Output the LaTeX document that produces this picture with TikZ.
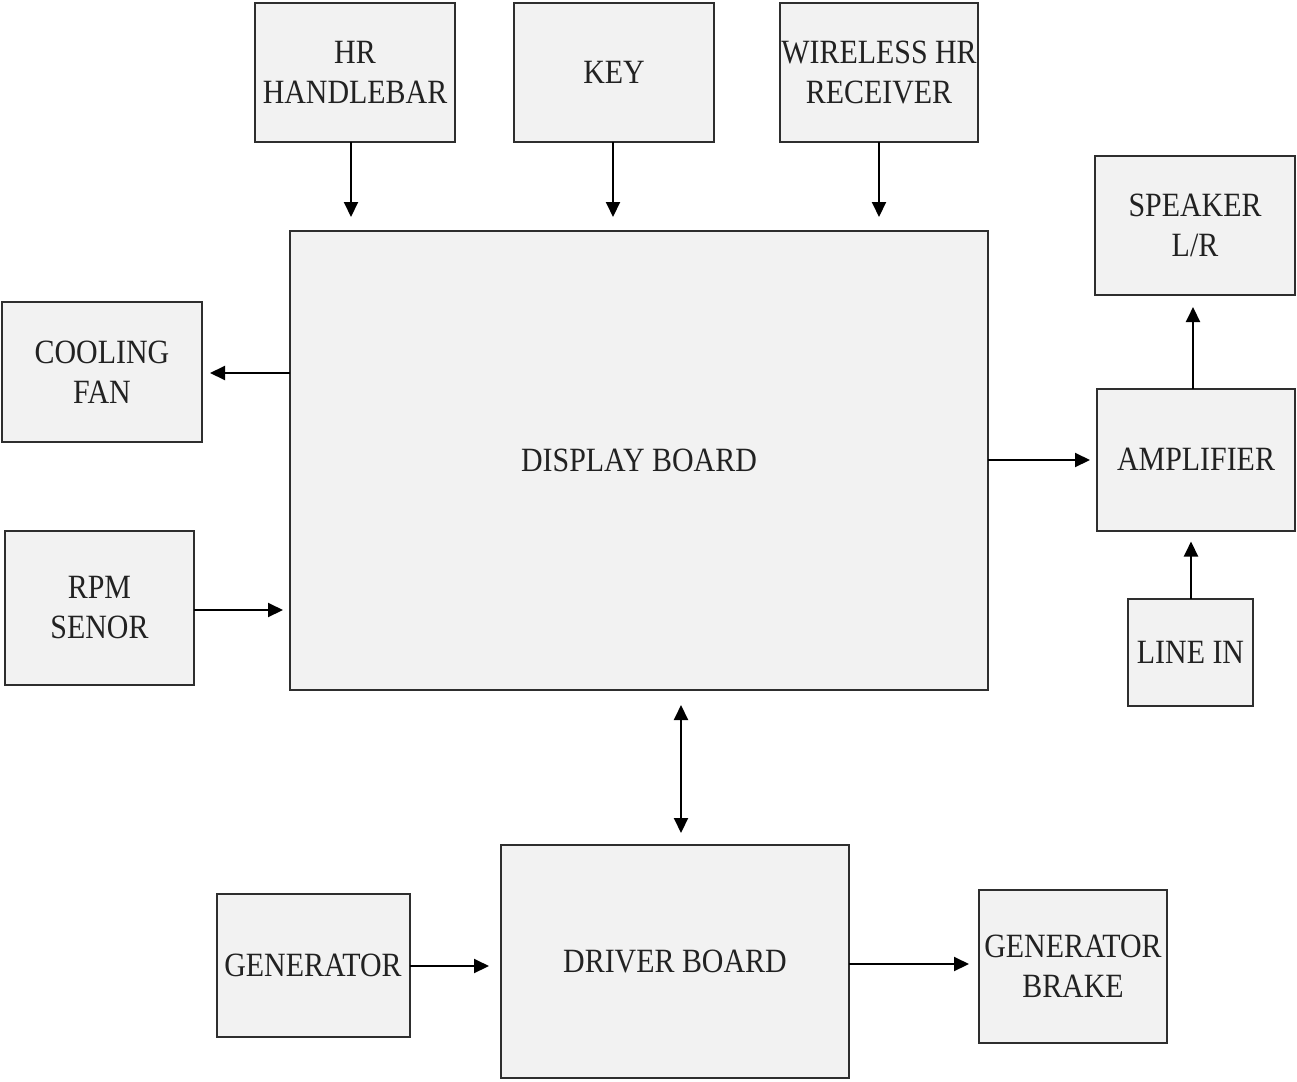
\documentclass[tikz,border=0pt]{standalone}
\usepackage{fontspec}
\setmainfont{Liberation Serif}[FakeStretch=0.88]
\usetikzlibrary{arrows.meta}
\definecolor{boxfill}{HTML}{F2F2F2}
\definecolor{boxline}{HTML}{2E2E2E}
\definecolor{txt}{HTML}{222222}
\tikzset{
  blk/.style={draw=boxline, fill=boxfill, line width=2pt, inner sep=0pt, outer sep=0pt,
    align=center, text=txt, font=\fontsize{34}{40}\selectfont},
  arr/.style={draw=black, line width=2pt, -{Triangle[length=15pt,width=14pt]}},
  darr/.style={draw=black, line width=2pt, {Triangle[length=15pt,width=14pt]}-{Triangle[length=15pt,width=14pt]}}
}
\begin{document}
\begin{tikzpicture}[x=1pt,y=-1pt]
\useasboundingbox (0,0) rectangle (1297,1081);
\node[blk, minimum width=200pt, minimum height=139pt] (hr) at (355,72.5) {HR\\HANDLEBAR};
\node[blk, minimum width=200pt, minimum height=139pt] (key) at (614,72.5) {KEY};
\node[blk, minimum width=198pt, minimum height=139pt] (wls) at (879,72.5) {WIRELESS HR\\RECEIVER};
\node[blk, minimum width=698pt, minimum height=459pt] (disp) at (639,460.5) {DISPLAY BOARD};
\node[blk, minimum width=200pt, minimum height=139pt] (spk) at (1195,225.5) {SPEAKER\\L/R};
\node[blk, minimum width=200pt, minimum height=140pt] (fan) at (102,372) {COOLING\\FAN};
\node[blk, minimum width=198pt, minimum height=142pt] (amp) at (1196,459.5) {AMPLIFIER};
\node[blk, minimum width=125pt, minimum height=107pt] (line) at (1190.5,652) {LINE IN};
\node[blk, minimum width=189pt, minimum height=154pt] (rpm) at (99.5,608) {RPM\\SENOR};
\node[blk, minimum width=348pt, minimum height=233pt] (drv) at (675,961.5) {DRIVER BOARD};
\node[blk, minimum width=193pt, minimum height=143pt] (gen) at (313,965) {GENERATOR};
\node[blk, minimum width=188pt, minimum height=153pt] (brk) at (1073,966.5) {GENERATOR\\BRAKE};

\coordinate (hrx) at (351,0);
\coordinate (keyx) at (613,0);
\coordinate (wlsx) at (879,0);
\coordinate (fany) at (0,373);
\coordinate (rpmy) at (0,610);
\coordinate (ampy) at (0,460);
\coordinate (spkx) at (1193,0);
\coordinate (linex) at (1191,0);
\coordinate (drvx) at (681,0);
\coordinate (geny) at (0,966);
\coordinate (brky) at (0,964);

\draw[arr] (hr.south -| hrx) -- ([yshift=14pt]disp.north -| hrx);
\draw[arr] (key.south -| keyx) -- ([yshift=14pt]disp.north -| keyx);
\draw[arr] (wls.south -| wlsx) -- ([yshift=14pt]disp.north -| wlsx);
\draw[arr] (disp.west |- fany) -- ([xshift=8pt]fan.east |- fany);
\draw[arr] (rpm.east |- rpmy) -- ([xshift=-7pt]disp.west |- rpmy);
\draw[arr] (disp.east |- ampy) -- ([xshift=-7pt]amp.west |- ampy);
\draw[arr] (amp.north -| spkx) -- ([yshift=-12pt]spk.south -| spkx);
\draw[arr] (line.north -| linex) -- ([yshift=-11pt]amp.south -| linex);
\draw[darr] ([yshift=-15pt]disp.south -| drvx) -- ([yshift=12pt]drv.north -| drvx);
\draw[arr] (gen.east |- geny) -- ([xshift=-12pt]drv.west |- geny);
\draw[arr] (drv.east |- brky) -- ([xshift=-10pt]brk.west |- brky);
\end{tikzpicture}
\end{document}
